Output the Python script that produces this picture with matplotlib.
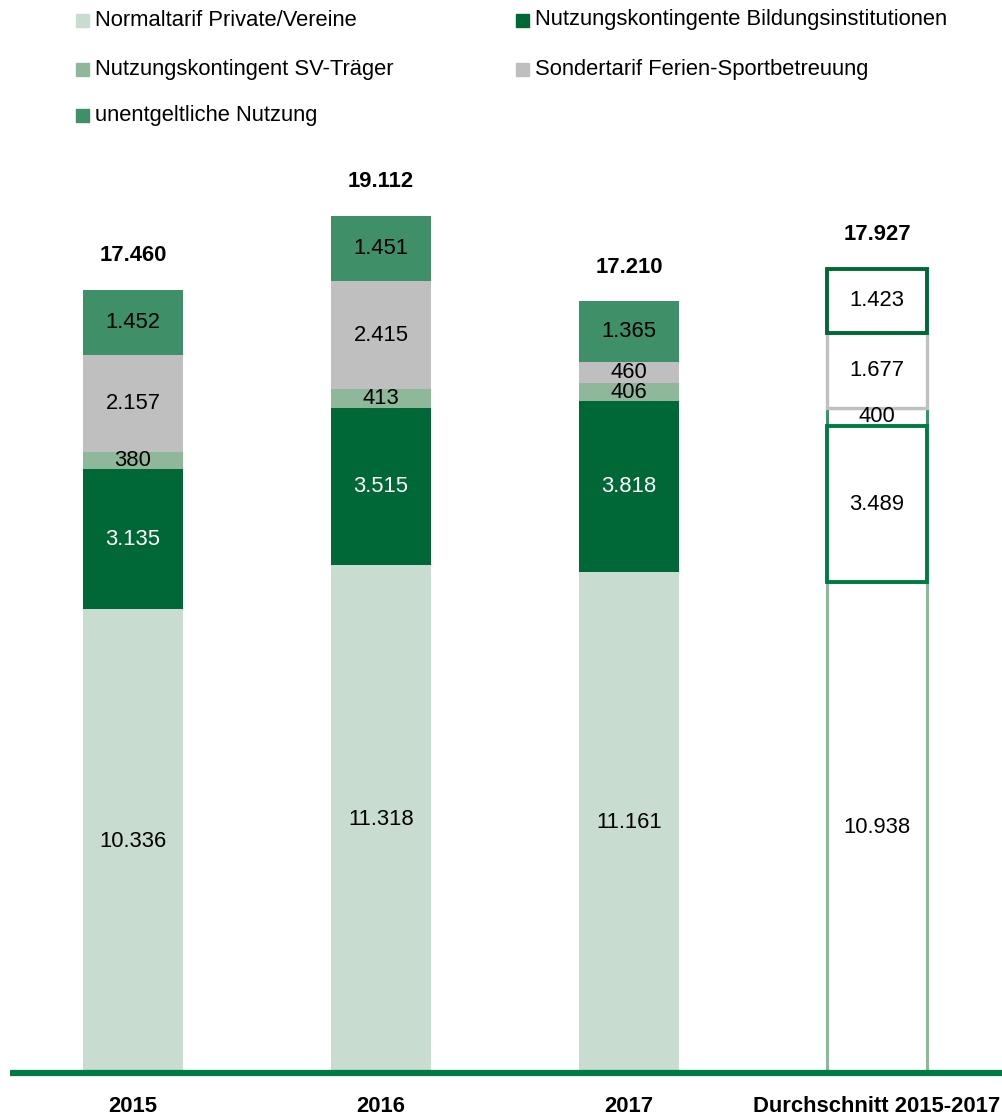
import matplotlib
matplotlib.use("Agg")
import matplotlib.pyplot as plt
from matplotlib import font_manager
from matplotlib.patches import Rectangle

names = {f.name for f in font_manager.fontManager.ttflist}
FONT = "Liberation Sans Narrow" if "Liberation Sans Narrow" in names else "Liberation Sans"
plt.rcParams["font.family"] = [FONT, "DejaVu Sans"]

categories = ["2015", "2016", "2017", "Durchschnitt 2015-2017"]
series = ["Normaltarif Private/Vereine", "Nutzungskontingente Bildungsinstitutionen",
          "Nutzungskontingent SV-Träger", "Sondertarif Ferien-Sportbetreuung",
          "unentgeltliche Nutzung"]
normaltarif = [10336, 11318, 11161, 10938]
bildung = [3135, 3515, 3818, 3489]
sv_traeger = [380, 413, 406, 400]
sondertarif = [2157, 2415, 460, 1677]
unentgeltlich = [1452, 1451, 1365, 1423]
totals = [17460, 19112, 17210, 17927]

values = [normaltarif, bildung, sv_traeger, sondertarif, unentgeltlich]
colors = ["#C9DCD0", "#006837", "#8FB89B", "#BFBFBF", "#3F9069"]
avg_edges = ["#8FB89B", "#007A45", "#3F9069", "#C0C0C0", "#006837"]
avg_lw = [2.2, 2.8, 2.2, 2.4, 2.8]
avg_z = [2, 5, 3, 4, 6]
label_colors = ["black", "white", "black", "black", "black"]

def fmt(v):
    return f"{v:,}".replace(",", ".")

FS = 15.8
W, H = 1002, 1117
fig = plt.figure(figsize=(W / 100, H / 100), dpi=100)
ax = fig.add_axes([10 / W, (H - 1073) / H, (W - 10) / W, (1073 - 150) / H])
ax.set_xlim(-0.496, 3.504)
ax.set_ylim(0, 923 / 0.04485)
ax.axis("off")

bw = 0.403
n = len(categories)
for i in range(n):
    bottom = 0
    is_avg = i == n - 1
    for s in range(len(series)):
        v = values[s][i]
        if is_avg:
            ax.bar(i, v, bw, bottom=bottom, facecolor="white",
                   edgecolor=avg_edges[s], linewidth=avg_lw[s], zorder=avg_z[s])
            tc = "black"
        else:
            ax.bar(i, v, bw, bottom=bottom, color=colors[s], linewidth=0, zorder=2)
            tc = label_colors[s]
        ax.text(i, bottom + v / 2, fmt(v), ha="center", va="center",
                fontsize=FS, color=tc, zorder=10)
        bottom += v
    ax.annotate(fmt(totals[i]), (i, bottom), xytext=(0, 34), textcoords="offset pixels",
                ha="center", va="center", fontsize=FS, fontweight="bold")
    ax.annotate(categories[i], (i, 0), xytext=(0, -33), textcoords="offset pixels",
                ha="center", va="center", fontsize=FS, fontweight="bold",
                annotation_clip=False)

ax.axhline(0, color="#007A45", linewidth=4.5, zorder=12, clip_on=False,
           solid_capstyle="butt")

# legend
leg_pos = [(80, 20), (520, 20), (80, 69), (520, 69), (80, 115)]
for s, (lx, ly) in enumerate(leg_pos):
    sq = 13
    fig.add_artist(Rectangle(((lx - 4) / W, (H - ly - sq / 2) / H), sq / W, sq / H,
                             transform=fig.transFigure, color=colors[s]))
    fig.text((lx + 15) / W, (H - ly) / H, series[s], ha="left", va="center", fontsize=FS)

fig.savefig("out.png", dpi=100)
